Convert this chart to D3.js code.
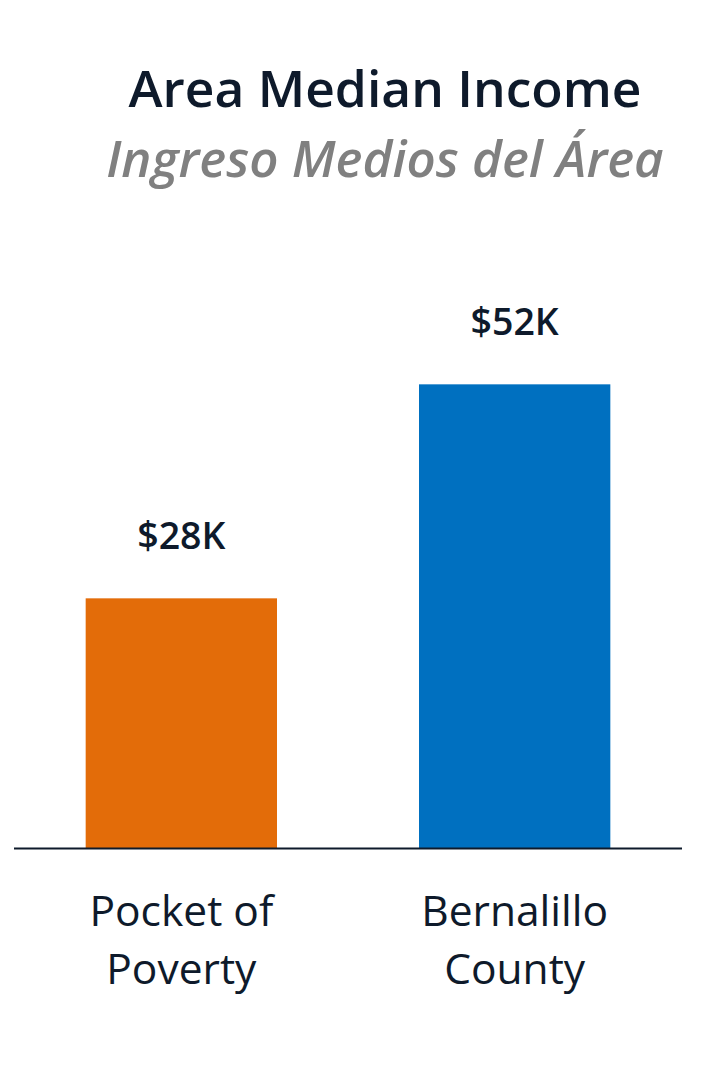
<!DOCTYPE html>
<html>
<head>
<meta charset="utf-8">
<script src="https://cdn.jsdelivr.net/npm/d3@7"></script>
<style>
  html, body { margin: 0; padding: 0; background: #ffffff; }
  svg { display: block; font-family: "Open Sans", "Noto Sans", sans-serif; }
</style>
</head>
<body>
<svg id="chart" width="728" height="1091"></svg>
<script>
// Area median income, in thousands of dollars
const categories = [["Pocket of", "Poverty"], ["Bernalillo", "County"]];
const values = [28, 52];
const valueLabels = ["$28K", "$52K"];
const barColors = ["#E36C09", "#0070C0"];
const title = "Area Median Income";
const subtitle = "Ingreso Medios del Área";

const svg = d3.select("#chart");
const ink = "#0E1A2B";

const x = d3.scaleBand()
  .domain(d3.range(values.length))
  .range([14, 682])
  .paddingInner(0.426)
  .paddingOuter(0.215);

const y = d3.scaleLinear()
  .domain([0, 60])
  .range([848, 313]);

// Title block
svg.append("text")
  .attr("x", 385).attr("y", 107)
  .attr("text-anchor", "middle")
  .attr("font-size", 51.5).attr("font-weight", 600)
  .attr("fill", ink)
  .text(title);

svg.append("text")
  .attr("x", 385).attr("y", 177)
  .attr("text-anchor", "middle")
  .attr("font-size", 51).attr("font-weight", 600)
  .attr("font-style", "italic")
  .attr("fill", "#808080")
  .text(subtitle);

// Bars
svg.selectAll("rect.bar")
  .data(values)
  .join("rect")
  .attr("class", "bar")
  .attr("x", (d, i) => x(i))
  .attr("width", x.bandwidth())
  .attr("y", d => y(d))
  .attr("height", d => y(0) - y(d))
  .attr("fill", (d, i) => barColors[i]);

// Value labels above bars
svg.selectAll("text.value")
  .data(values)
  .join("text")
  .attr("class", "value")
  .attr("x", (d, i) => x(i) + x.bandwidth() / 2)
  .attr("y", d => y(d) - 49)
  .attr("text-anchor", "middle")
  .attr("font-size", 37.5).attr("font-weight", 600)
  .attr("fill", ink)
  .text((d, i) => valueLabels[i]);

// Baseline
svg.append("line")
  .attr("x1", 14).attr("x2", 682)
  .attr("y1", y(0) + 0.5).attr("y2", y(0) + 0.5)
  .attr("stroke", ink).attr("stroke-width", 2);

// Category labels (two lines each)
const cat = svg.selectAll("text.cat")
  .data(categories)
  .join("text")
  .attr("class", "cat")
  .attr("text-anchor", "middle")
  .attr("font-size", 42.5)
  .attr("fill", ink);

cat.selectAll("tspan")
  .data((d, i) => d.map(line => ({ line, i })))
  .join("tspan")
  .attr("x", d => x(d.i) + x.bandwidth() / 2)
  .attr("y", (d, j) => 926 + j * 58)
  .text(d => d.line);
</script>
</body>
</html>
